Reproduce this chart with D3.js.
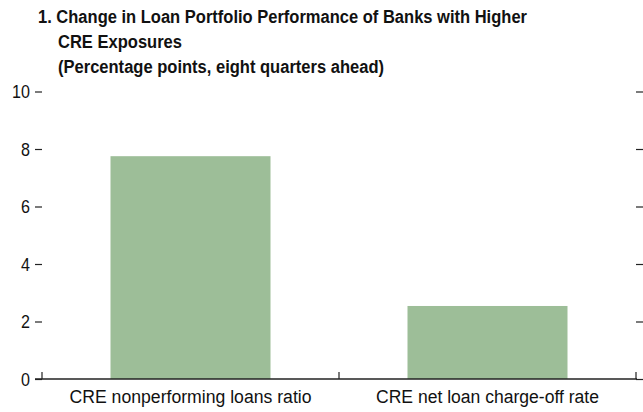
<!DOCTYPE html>
<html>
<head>
<meta charset="utf-8">
<script src="https://cdn.jsdelivr.net/npm/d3@7"></script>
<style>
  html, body { margin: 0; padding: 0; background: #fff; }
  svg { display: block; }
  text { font-family: "Liberation Sans", Arial, sans-serif; fill: #111; }
</style>
</head>
<body>
<svg id="chart" width="643" height="412"></svg>
<script>
const titleLines = [
  "1. Change in Loan Portfolio Performance of Banks with Higher",
  "CRE Exposures",
  "(Percentage points, eight quarters ahead)"
];
const categories = ["CRE nonperforming loans ratio", "CRE net loan charge-off rate"];
const values = [7.75, 2.54];
const yTicks = [0, 2, 4, 6, 8, 10];

(function () {
const svg = d3.select("#chart");
const mLeft = 42, mRight = 636, mTop = 91.5, mBottom = 379;
const condense = 0.87;

const x = d3.scaleBand().domain(categories).range([mLeft, mRight]).paddingInner(0).paddingOuter(0);
const y = d3.scaleLinear().domain([0, 10]).range([mBottom, mTop]);

function squeeze(sel, k) {
  sel.each(function () {
    const w = this.getComputedTextLength();
    d3.select(this).attr("textLength", w * k).attr("lengthAdjust", "spacingAndGlyphs");
  });
}

// Title
const title = svg.append("g").attr("font-weight", "bold").attr("font-size", 18);
const tPos = [[38, 23, 489], [58, 48, 124], [58, 73, 326]];
titleLines.forEach((t, i) => {
  title.append("text").attr("x", tPos[i][0]).attr("y", tPos[i][1])
    .attr("textLength", tPos[i][2]).attr("lengthAdjust", "spacingAndGlyphs").text(t);
});

// Bars
const barW = 160;
svg.append("g").selectAll("rect").data(values).join("rect")
  .attr("x", (d, i) => x(categories[i]) + x.bandwidth() / 2 - barW / 2)
  .attr("y", d => y(d))
  .attr("width", barW)
  .attr("height", d => y(0) - y(d))
  .attr("fill", "#9dbe98");

// Left axis
const yl = svg.append("g").attr("transform", `translate(${mLeft},0)`)
  .call(d3.axisLeft(y).tickValues(yTicks).tickSize(7).tickPadding(5));
yl.select(".domain").remove();
yl.selectAll("line").attr("stroke", "#222").attr("stroke-width", 1.2);
yl.selectAll("text").attr("font-size", 18.5).attr("font-family", null).attr("fill", "#111")
  .attr("dy", "0.34em");
squeeze(yl.selectAll("text"), condense);

// Right axis
const yr = svg.append("g").attr("transform", `translate(${mRight},0)`)
  .call(d3.axisRight(y).tickValues(yTicks).tickSize(7).tickFormat(""));
yr.select(".domain").remove();
yr.selectAll("line").attr("stroke", "#222").attr("stroke-width", 1.2);

// Bottom axis
const xa = svg.append("g").attr("transform", `translate(0,${mBottom})`)
  .call(d3.axisBottom(x).tickSize(0).tickPadding(9));
xa.select(".domain").remove();
xa.selectAll("text").attr("font-size", 18).attr("font-family", null).attr("fill", "#111")
  .attr("dy", "0.85em");
const labW = [242, 223];
xa.selectAll("text").attr("textLength", (d, i) => labW[i]).attr("lengthAdjust", "spacingAndGlyphs");
svg.append("line").attr("x1", 35).attr("x2", 637).attr("y1", mBottom).attr("y2", mBottom)
  .attr("stroke", "#222").attr("stroke-width", 1.4);
const bTicks = [mLeft, x(categories[1]), mRight];
svg.append("g").selectAll("line").data(bTicks).join("line")
  .attr("x1", d => d).attr("x2", d => d)
  .attr("y1", mBottom).attr("y2", mBottom - 7)
  .attr("stroke", "#222").attr("stroke-width", 1.2);
})();
</script>
</body>
</html>
